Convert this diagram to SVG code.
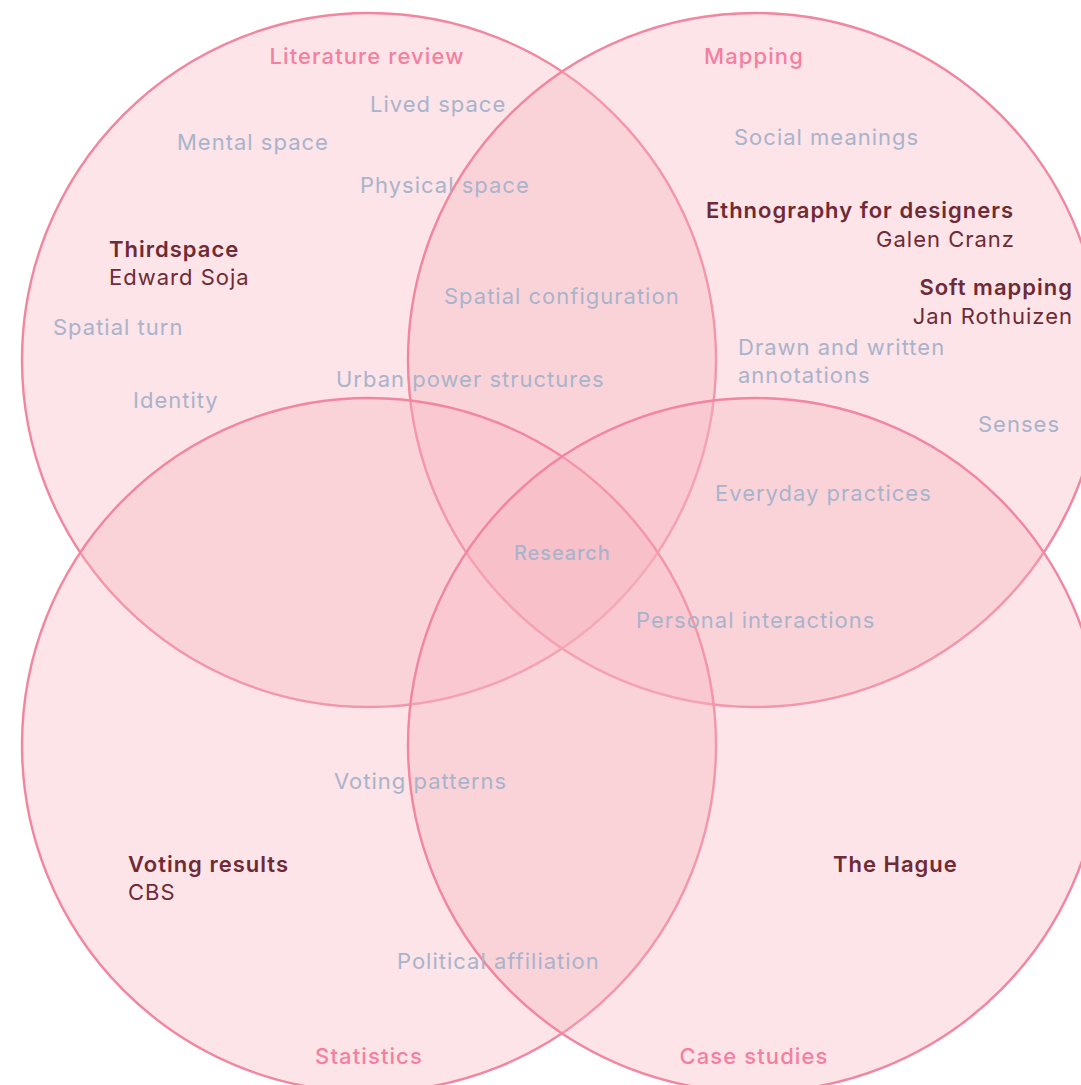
<svg xmlns="http://www.w3.org/2000/svg" width="1081" height="1085" viewBox="0 0 1081 1085">
<style>
.c{fill:rgb(246,180,190);fill-opacity:0.36;stroke:#f2859f;stroke-width:2.4}
text{font-family:Inter,"Liberation Sans",sans-serif;font-size:22px;letter-spacing:1px}
.t{fill:#f47fa0;font-weight:500;letter-spacing:1.1px}
.g{fill:#a9b3cb}
.b{fill:#6e2a35;font-weight:600}
.a{fill:#6e2a35}
.m{text-anchor:middle}
.e{text-anchor:end}
</style>
<rect width="1081" height="1085" fill="#fff"/>
<g id="circles">
<circle id="literature" class="c" cx="369" cy="360" r="347"/>
<circle id="mapping" class="c" cx="755" cy="360" r="347"/>
<circle id="statistics" class="c" cx="369" cy="745" r="347"/>
<circle id="casestudies" class="c" cx="755" cy="745" r="347"/>
</g>
<g id="titles">
<text class="t m" x="367" y="64">Literature review</text>
<text class="t m" x="754" y="64">Mapping</text>
<text class="t m" x="369" y="1064">Statistics</text>
<text class="t m" x="754" y="1064">Case studies</text>
</g>
<g id="labels">
<text class="g" x="370" y="112">Lived space</text>
<text class="g" x="177" y="150">Mental space</text>
<text class="g" x="360" y="193">Physical space</text>
<text class="g" x="734" y="145">Social meanings</text>
<text class="g" x="444" y="304">Spatial configuration</text>
<text class="g" x="53" y="335">Spatial turn</text>
<text class="g" x="738" y="355">Drawn and written</text>
<text class="g" x="738" y="383">annotations</text>
<text class="g" x="336" y="387">Urban power structures</text>
<text class="g" x="133" y="408">Identity</text>
<text class="g" x="978" y="432">Senses</text>
<text class="g" x="715" y="501">Everyday practices</text>
<text class="g" x="636" y="628">Personal interactions</text>
<text class="g" x="334" y="789">Voting patterns</text>
<text class="g" x="397" y="969">Political affiliation</text>
<text class="g" x="514" y="560" style="font-size:20px;font-weight:500;letter-spacing:0.9px">Research</text>
</g>
<g id="sources">
<text class="b" x="706" y="218">Ethnography for designers</text>
<text class="a e" x="1015" y="247">Galen Cranz</text>
<text class="b" x="109" y="257">Thirdspace</text>
<text class="a" x="109" y="285">Edward Soja</text>
<text class="b e" x="1073" y="295">Soft mapping</text>
<text class="a e" x="1073" y="324">Jan Rothuizen</text>
<text class="b" x="128" y="872">Voting results</text>
<text class="a" x="128" y="900">CBS</text>
<text class="b" x="833" y="872">The Hague</text>
</g>
</svg>
